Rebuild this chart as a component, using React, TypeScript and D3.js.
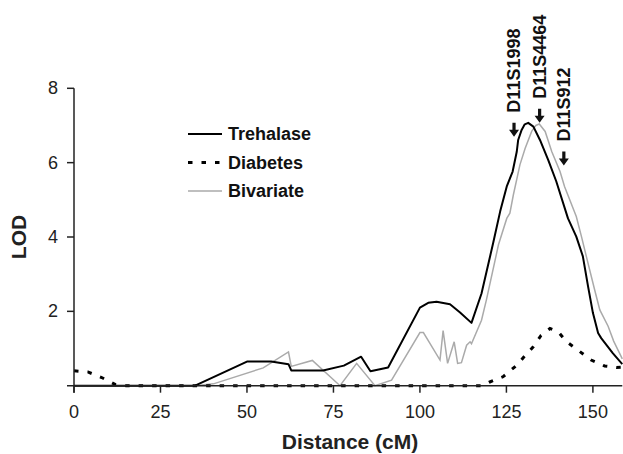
import * as d3 from 'd3';

// LOD score curves along the chromosome (cM, LOD)
const trehalase: [number, number][] = [
  [0, 0], [35, 0], [50, 0.65], [57, 0.65], [62, 0.58], [62.8, 0.41], [72, 0.41],
  [78, 0.54], [83, 0.78], [85.7, 0.39], [90.8, 0.49], [100, 2.1], [102.4, 2.23],
  [104.8, 2.26], [108.7, 2.19], [111.6, 1.97], [114.9, 1.69], [117.8, 2.48],
  [121.2, 3.85], [123.2, 4.69], [125.1, 5.36], [126.8, 5.76], [128, 6.3],
  [128.4, 6.61], [129.4, 6.88], [130.3, 7.03], [131.3, 7.07], [132.8, 6.97],
  [134.7, 6.61], [137.1, 6.07], [139.4, 5.5], [142.8, 4.5], [145.2, 4.01],
  [147.1, 3.48], [148.6, 2.67], [150, 1.96], [151.5, 1.42], [152.4, 1.28],
  [155.8, 0.87], [158.5, 0.58],
];

const diabetes: [number, number][] = [
  [0, 0.4], [4, 0.37], [8, 0.22], [12, 0.03], [15, 0], [118, 0], [120.2, 0.1],
  [124, 0.24], [128, 0.55], [130.3, 0.8], [132.7, 1.04], [135, 1.35],
  [137.6, 1.54], [140, 1.45], [142.3, 1.19], [146.2, 0.92], [149.5, 0.69],
  [153.4, 0.53], [156.8, 0.49], [158.5, 0.5],
];

const bivariate: [number, number][] = [
  [0, 0], [35, 0], [40.3, 0.05], [54.7, 0.48], [62, 0.91], [62.8, 0.52],
  [68.9, 0.68], [76.9, 0], [81.7, 0.6], [87, 0], [91.8, 0.15], [100, 1.43],
  [101, 1.43], [105.8, 0.69], [106.7, 1.48], [108, 0.6], [109.9, 1.18],
  [110.9, 0.6], [112, 0.62], [113.5, 1.09], [114.5, 1.18], [114.9, 1.13],
  [117.8, 1.76], [119.2, 2.3], [122.7, 3.79], [125.1, 4.5], [126, 4.64],
  [127, 5.13], [128.9, 5.94], [130.4, 6.38], [132.3, 6.84], [133.5, 7.0],
  [134.5, 7.04], [136.2, 6.84], [138.1, 6.3], [140.5, 5.76], [141.8, 5.36],
  [145.2, 4.55], [146.7, 4.01], [148.1, 3.48], [150.5, 2.58], [152, 2.04],
  [154.4, 1.6], [156, 1.2], [158.5, 0.72],
];

// marker names, position (cM) and LOD at the arrow tip
const markers = ['D11S1998', 'D11S4464', 'D11S912'];
const markerPos = [127.2, 134.6, 141.6];
const markerTip = [6.7, 7.07, 5.92];

const xTicks = [0, 25, 50, 75, 100, 125, 150];
const yTicks = [2, 4, 6, 8];

const legend = ['Trehalase', 'Diabetes', 'Bivariate'];

const FONT = '"Liberation Sans", Arial, Helvetica, sans-serif';

const x = d3.scaleLinear().domain([0, 158.5]).range([74, 622.3]);
const y = d3.scaleLinear().domain([0, 8]).range([385.7, 88.3]);

const line = d3
  .line<[number, number]>()
  .x((d) => x(d[0]))
  .y((d) => y(d[1]));

const styles = [
  { stroke: '#000', width: 2, dash: undefined as string | undefined },
  { stroke: '#000', width: 3, dash: '4.5,9' },
  { stroke: '#aaa', width: 1.5, dash: undefined as string | undefined },
];

export default function App() {
  return (
    <svg width={623} height={454} style={{ display: 'block', position: 'absolute', left: 0, top: 0 }}>
      <rect width={623} height={454} fill="#fff" />

      {/* curves: gray under black */}
      <path d={line(bivariate) ?? ''} fill="none" stroke={styles[2].stroke} strokeWidth={styles[2].width} />
      <path d={line(trehalase) ?? ''} fill="none" stroke={styles[0].stroke} strokeWidth={styles[0].width} strokeLinejoin="round" />
      <path d={line(diabetes) ?? ''} fill="none" stroke={styles[1].stroke} strokeWidth={styles[1].width} strokeDasharray={styles[1].dash} />

      {/* axes */}
      <g stroke="#222" strokeWidth={1.5}>
        <line x1={x(0)} x2={x(0)} y1={y(8)} y2={y(0) + 7} />
        <line x1={x(0) - 7} x2={x.range()[1]} y1={y(0)} y2={y(0)} />
        {yTicks.map((t) => (
          <line key={'yt' + t} x1={x(0) - 7} x2={x(0)} y1={y(t)} y2={y(t)} />
        ))}
        {xTicks.map((t) => (
          <line key={'xt' + t} x1={x(t)} x2={x(t)} y1={y(0)} y2={y(0) + 7} />
        ))}
      </g>
      <g fontFamily={FONT} fontSize={18} fill="#222">
        {yTicks.map((t) => (
          <text key={'yl' + t} x={x(0) - 16} y={y(t)} textAnchor="end" dominantBaseline="central">
            {t}
          </text>
        ))}
        {xTicks.map((t) => (
          <text key={'xl' + t} x={x(t)} y={418} textAnchor="middle">
            {t}
          </text>
        ))}
      </g>
      <text x={350} y={449} textAnchor="middle" fontFamily={FONT} fontSize={21} fontWeight="bold" fill="#222">
        Distance (cM)
      </text>
      <text
        transform={`translate(26, 237) rotate(-90)`}
        textAnchor="middle"
        fontFamily={FONT}
        fontSize={21}
        fontWeight="bold"
        fill="#222"
      >
        LOD
      </text>

      {/* legend */}
      <g fontFamily={FONT} fontSize={18} fontWeight="bold" fill="#111">
        {legend.map((name, i) => {
          const ly = 134 + i * 28.5;
          return (
            <g key={name}>
              <line
                x1={188}
                x2={222}
                y1={ly}
                y2={ly}
                stroke={styles[i].stroke}
                strokeWidth={styles[i].width}
                strokeDasharray={styles[i].dash}
              />
              <text x={228} y={ly} dominantBaseline="central">
                {name}
              </text>
            </g>
          );
        })}
      </g>

      {/* marker annotations */}
      {markers.map((m, i) => {
        const mx = x(markerPos[i]);
        const tip = y(markerTip[i]);
        return (
          <g key={m}>
            <path
              d={`M${mx - 1.6},${tip - 14} L${mx + 1.6},${tip - 14} L${mx + 1.6},${tip - 7} L${mx + 5},${tip - 7} L${mx},${tip} L${mx - 5},${tip - 7} L${mx - 1.6},${tip - 7} Z`}
              fill="#111"
            />
            <text
              transform={`translate(${mx}, ${tip - 24}) rotate(-90)`}
              dominantBaseline="central"
              fontFamily={FONT}
              fontSize={18}
              fontWeight="bold"
              fill="#111"
            >
              {m}
            </text>
          </g>
        );
      })}
    </svg>
  );
}
